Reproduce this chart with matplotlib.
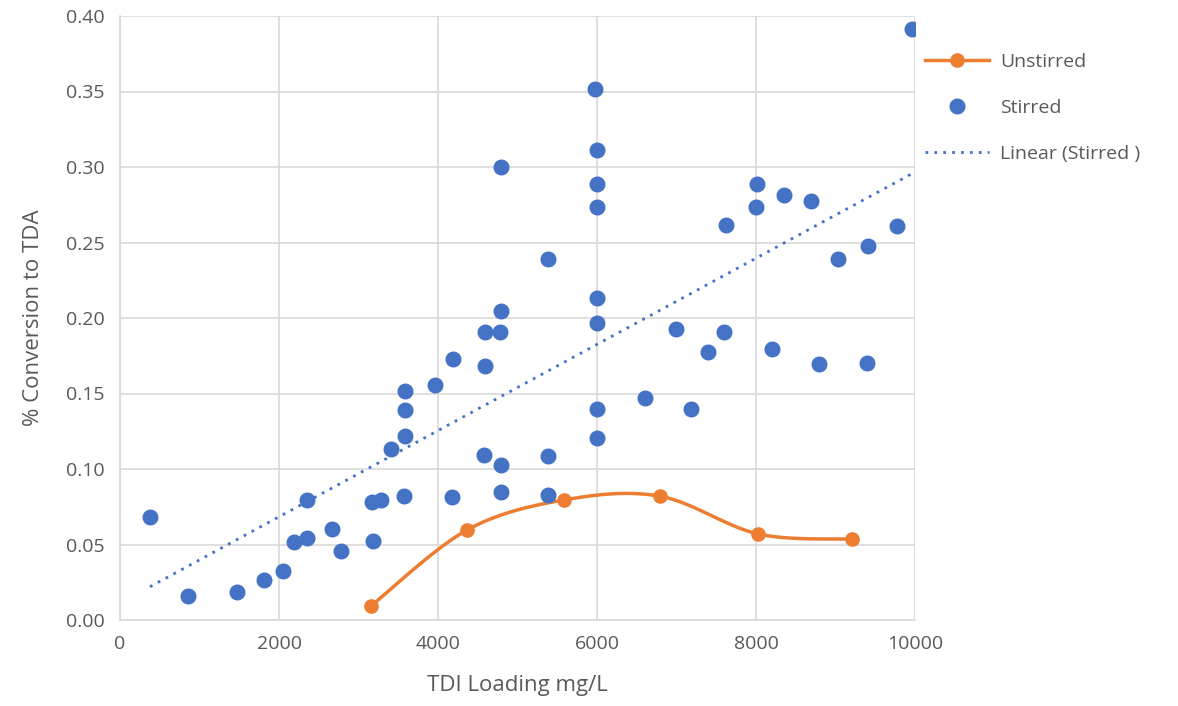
import matplotlib
matplotlib.use("Agg")
import matplotlib.pyplot as plt
import numpy as np

plt.rcParams['font.family'] = ['Open Sans', 'DejaVu Sans']

# stirred runs
stirred_x = [377, 855, 1472, 1811, 2050, 2189, 2352, 2352, 2667, 2780,
             3170, 3182, 3283, 3409, 3572, 3585, 3585, 3585, 3962, 4176,
             4189, 4579, 4591, 4591, 4780, 4792, 4792, 4792, 4792, 5384,
             5384, 5384, 5975, 6000, 6000, 6000, 6000, 6000, 6000, 6000,
             6604, 6994, 7182, 7396, 7597, 7623, 8000, 8013, 8201, 8352,
             8692, 8792, 9031, 9409, 9396, 9774, 9962]
stirred_y = [0.068, 0.016, 0.0185, 0.0265, 0.0325, 0.0517, 0.0543, 0.0795, 0.060, 0.0457,
             0.078, 0.0523, 0.0795, 0.113, 0.082, 0.122, 0.139, 0.1517, 0.1556, 0.0815,
             0.1728, 0.109, 0.168, 0.191, 0.1907, 0.1026, 0.0848, 0.2046, 0.300, 0.1086,
             0.0828, 0.239, 0.3517, 0.311, 0.289, 0.2735, 0.213, 0.197, 0.140, 0.1205,
             0.147, 0.1927, 0.140, 0.1775, 0.1907, 0.2616, 0.2735, 0.289, 0.1795, 0.2815,
             0.2775, 0.1695, 0.239, 0.248, 0.170, 0.261, 0.3914]

# unstirred runs
unstirred_x = [3157, 4365, 5585, 6792, 8025, 9208]
unstirred_y = [0.0093, 0.0596, 0.0795, 0.082, 0.057, 0.0536]

xticks = [0, 2000, 4000, 6000, 8000, 10000]
yticks = [0.00, 0.05, 0.10, 0.15, 0.20, 0.25, 0.30, 0.35, 0.40]

blue = '#4472c4'
orange = '#ed7d31'
grey_txt = '#595959'


def smooth(xs, ys, n=40):
    # catmull-rom style smoothing like the spreadsheet "smoothed line"
    p = np.column_stack([xs, ys]).astype(float)
    p = np.vstack([p[0], p, p[-1]])
    out = []
    for i in range(1, len(p) - 2):
        p0, p1, p2, p3 = p[i - 1], p[i], p[i + 1], p[i + 2]
        c1 = p1 + (p2 - p0) / 6
        c2 = p2 - (p3 - p1) / 6
        t = np.linspace(0, 1, n)[:, None]
        seg = ((1 - t) ** 3) * p1 + 3 * ((1 - t) ** 2) * t * c1 + 3 * (1 - t) * t ** 2 * c2 + t ** 3 * p2
        out.append(seg)
    out = np.vstack(out)
    return out[:, 0], out[:, 1]


fig = plt.figure(figsize=(11.78, 7.06), dpi=100)
ax = fig.add_axes([120 / 1178, 86 / 706, 795 / 1178, 604 / 706])

sx, sy = smooth(unstirred_x, unstirred_y)
ax.plot(sx, sy, color=orange, lw=2.5, zorder=3)
ax.plot(unstirred_x, unstirred_y, 'o', color=orange, ms=9.5, zorder=4)
ax.plot([], [], '-o', color=orange, lw=2.5, ms=9.5, label='Unstirred')

ax.plot(stirred_x, stirred_y, 'o', color=blue, ms=10.5, ls='none', zorder=5, label='Stirred')

k, b = np.polyfit(stirred_x, stirred_y, 1)
tx = np.array([min(stirred_x), max(stirred_x)])
ax.plot(tx, k * tx + b, color=blue, lw=2, ls=(0, (1, 2.2)), zorder=2, label='Linear (Stirred )')

ax.set_xlim(0, 10000)
ax.set_ylim(0, 0.40)
ax.set_xticks(xticks)
ax.set_yticks(yticks)
ax.set_yticklabels(['%.2f' % v for v in yticks])
ax.grid(color='#d9d9d9', lw=1.2)
ax.set_axisbelow(True)
for s in ['top', 'right']:
    ax.spines[s].set_visible(False)
for s in ['left', 'bottom']:
    ax.spines[s].set_color('#d9d9d9')
    ax.spines[s].set_linewidth(1.2)
ax.tick_params(length=0, labelsize=14, colors=grey_txt, pad=11)
ax.set_xlabel('TDI Loading mg/L', fontsize=16, color=grey_txt, labelpad=16)
ax.set_ylabel('% Conversion to TDA', fontsize=16, color=grey_txt, labelpad=16)

leg = ax.legend(loc='upper left', bbox_to_anchor=(0.99, 0.968), frameon=False,
                fontsize=14, labelspacing=1.45, handlelength=3.3, handletextpad=0.6)
for t in leg.get_texts():
    t.set_color(grey_txt)

fig.savefig('out.png', dpi=100)
